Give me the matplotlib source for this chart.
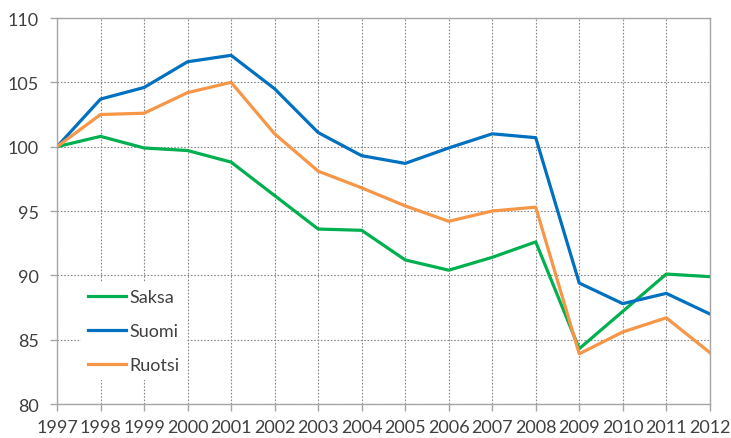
import matplotlib.pyplot as plt

plt.rcParams['font.family'] = ['Lato', 'DejaVu Sans']

years = list(range(1997, 2013))
saksa = [100, 100.8, 99.9, 99.7, 98.8, 96.2, 93.6, 93.5, 91.2, 90.4, 91.4, 92.6, 84.3, 87.2, 90.1, 89.9]
suomi = [100, 103.7, 104.6, 106.6, 107.1, 104.5, 101.1, 99.3, 98.7, 99.9, 101.0, 100.7, 89.4, 87.8, 88.6, 87.0]
ruotsi = [100, 102.5, 102.6, 104.2, 105.0, 101.0, 98.1, 96.8, 95.4, 94.2, 95.0, 95.3, 83.9, 85.6, 86.7, 84.0]

fig = plt.figure(figsize=(7.31, 4.39), dpi=100)
ax = fig.add_axes([0.078, 0.0774, 0.893, 0.8793])

ax.plot(years, saksa, color='#00B050', lw=2.3, label='Saksa')
ax.plot(years, suomi, color='#0070C0', lw=2.3, label='Suomi')
ax.plot(years, ruotsi, color='#F79646', lw=2.3, label='Ruotsi')

ax.set_xlim(1997, 2012)
ax.set_ylim(80, 110)
ax.set_xticks(years)
ax.set_yticks(range(80, 111, 5))
ax.grid(True, color='#888888', linestyle=(0, (1.5, 1.5)), linewidth=0.8)
ax.set_axisbelow(True)
for s in ax.spines.values():
    s.set_color('#a6a6a6')
    s.set_linewidth(1.0)
ax.tick_params(axis='both', colors='#a6a6a6', length=5, width=1.0,
               labelcolor='#404040', labelsize=13)
ax.tick_params(axis='x', pad=6)
ax.tick_params(axis='y', pad=8)

leg = ax.legend(loc='center left', bbox_to_anchor=(0.036, 0.189), borderaxespad=0,
                fontsize=13, handlelength=2.1, handletextpad=0.2,
                labelspacing=1.0, frameon=True, fancybox=False)
leg.get_frame().set_edgecolor('none')
leg.get_frame().set_alpha(1)
for t in leg.get_texts():
    t.set_color('#404040')

fig.savefig('out.png', dpi=100)
